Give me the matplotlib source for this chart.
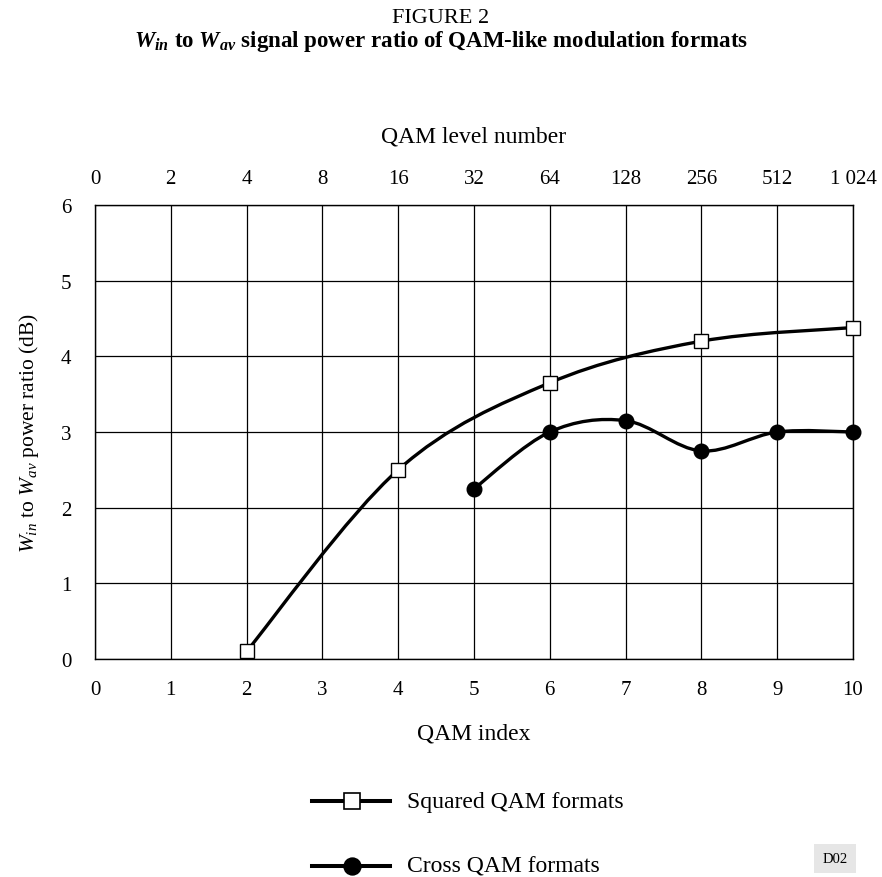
import numpy as np
import matplotlib
matplotlib.use('Agg')
import matplotlib.pyplot as plt
from matplotlib.path import Path
from matplotlib.patches import PathPatch
from matplotlib.lines import Line2D

plt.rcParams['font.family'] = 'Liberation Serif'
plt.rcParams['mathtext.fontset'] = 'custom'
plt.rcParams['mathtext.rm'] = 'Liberation Serif'
plt.rcParams['mathtext.it'] = 'Liberation Serif:italic'
plt.rcParams['mathtext.bf'] = 'Liberation Serif:bold'
plt.rcParams['mathtext.bfit'] = 'Liberation Serif:bold:italic'

# data
squared_x = [2, 4, 6, 8, 10]
squared_y = [0.1, 2.5, 3.65, 4.2, 4.38]
cross_x = [5, 6, 7, 8, 9, 10]
cross_y = [2.25, 3.0, 3.15, 2.75, 3.0, 3.0]
top_labels = ['0', '2', '4', '8', '16', '32', '64', '128', '256', '512', '1 024']


def SmoothPath(xs, ys):
    # spreadsheet-style smoothed line: cubic bezier segments through the points
    pts = np.column_stack([xs, ys]).astype(float)
    n = len(pts)
    verts = [pts[0]]
    codes = [Path.MOVETO]
    for i in range(n - 1):
        p0 = pts[max(i - 1, 0)]
        p1 = pts[i]
        p2 = pts[i + 1]
        p3 = pts[min(i + 2, n - 1)]
        c1 = p1 + (p2 - p0) / 6.0
        c2 = p2 - (p3 - p1) / 6.0
        verts += [c1, c2, p2]
        codes += [Path.CURVE4] * 3
    return Path(verts, codes)


fig = plt.figure(figsize=(8.82, 8.78), dpi=100)
ax = fig.add_axes([0.1077, 0.2483, 0.8594, 0.5171])

for xs, ys in [(squared_x, squared_y), (cross_x, cross_y)]:
    ax.add_patch(PathPatch(SmoothPath(xs, ys), facecolor='none',
                           edgecolor='black', lw=2.4, zorder=3))

ax.plot(squared_x, squared_y, linestyle='none', marker='s', ms=9.5,
        mfc='white', mec='black', mew=1.0, zorder=4, clip_on=False)
ax.plot(cross_x, cross_y, linestyle='none', marker='o', ms=10.5,
        mfc='black', mec='black', zorder=4, clip_on=False)

ax.set_xlim(0, 10)
ax.set_ylim(0, 6)
ax.set_xticks(range(11))
ax.set_yticks(range(7))
ax.grid(True, color='black', lw=0.9)
ax.tick_params(length=0, labelsize=15, pad=15)
ax.tick_params(axis='y', pad=17)
for s in ax.spines.values():
    s.set_linewidth(1.0)

ax.set_xlabel('QAM index', fontsize=17, labelpad=17)
ax.set_ylabel(r'$W_{in}$ to $W_{av}$ power ratio (dB)', fontsize=15.5, labelpad=14)

top = ax.secondary_xaxis('top')
top.set_xticks(range(11))
top.set_xticklabels(top_labels)
top.tick_params(length=0, labelsize=15, pad=12)
top.spines['top'].set_visible(False)
top.set_xlabel('QAM level number', fontsize=17, labelpad=20)

fig.text(0.5, 0.974, 'FIGURE 2', ha='center', va='baseline', fontsize=16)
fig.text(0.5, 0.9465,
         r'$\mathbfit{W}_{\mathbfit{in}}$ to $\mathbfit{W}_{\mathbfit{av}}$ signal power ratio of QAM-like modulation formats',
         ha='center', va='baseline', fontsize=16.5, fontweight='bold')

# legend drawn by hand below the axes
for yy, mk, fc, lab in [(0.0865, 's', 'white', 'Squared QAM formats'),
                        (0.0125, 'o', 'black', 'Cross QAM formats')]:
    fig.add_artist(Line2D([0.354, 0.442], [yy, yy], color='black', lw=2.9,
                          transform=fig.transFigure))
    fig.add_artist(Line2D([0.399], [yy], marker=mk, ms=12, mfc=fc, mec='black',
                          mew=1.2, transform=fig.transFigure))
    fig.text(0.461, yy, lab, ha='left', va='center', fontsize=17)

fig.text(0.9467, 0.0216, 'D02', ha='center', va='center', fontsize=10.5,
         bbox=dict(boxstyle='square,pad=0.55', fc='#e6e6e6', ec='none'))

fig.savefig('out.png', dpi=100)
